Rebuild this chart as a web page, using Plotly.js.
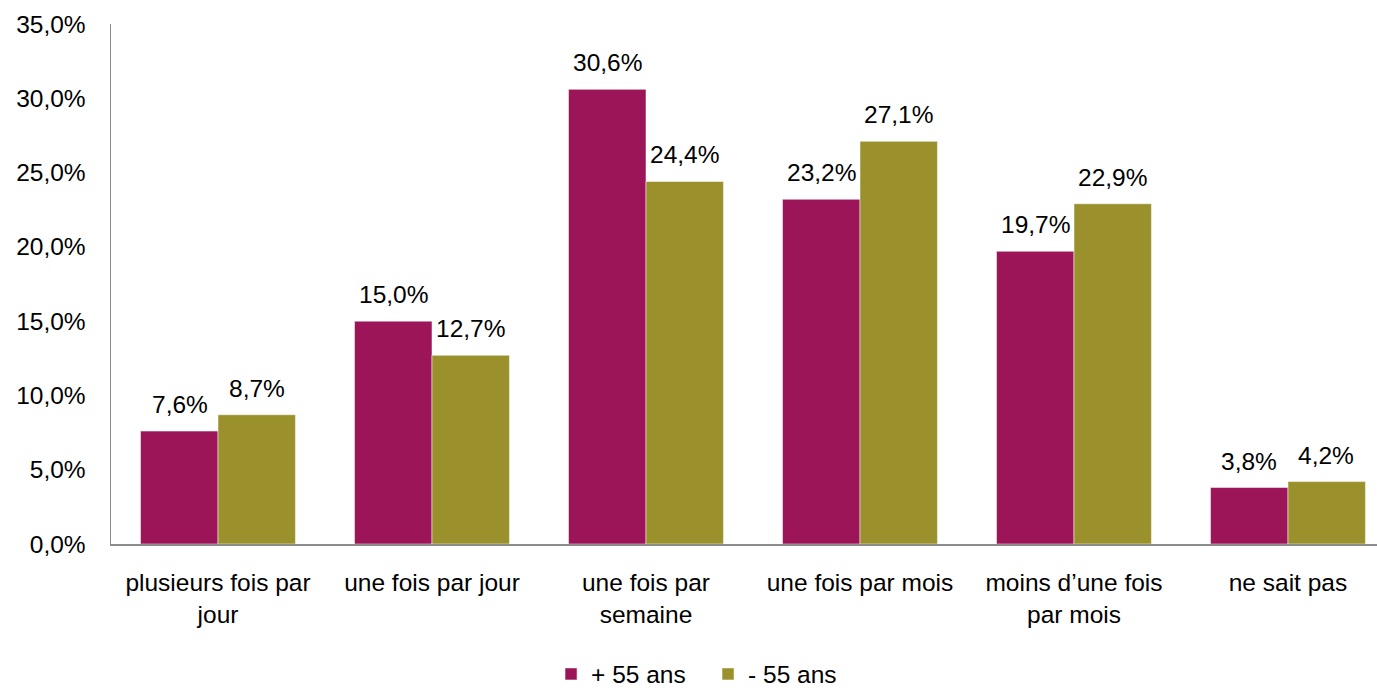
<!DOCTYPE html>
<html>
<head>
<meta charset="utf-8">
<script src="https://cdn.plot.ly/plotly-3.0.1.min.js"></script>
<style>html,body{margin:0;padding:0;background:#fff;}#chart{width:1377px;height:692px;}</style>
</head>
<body>
<div id="chart"></div>
<script>
const categories = ["plusieurs fois par<br>jour", "une fois par jour", "une fois par<br>semaine", "une fois par mois", "moins d\u2019une fois<br>par mois", "ne sait pas"];
const seriesNames = ["+ 55 ans", "- 55 ans"];
const plus55 = [7.6, 15.0, 30.6, 23.2, 19.7, 3.8];
const moins55 = [8.7, 12.7, 24.4, 27.1, 22.9, 4.2];
const colors = ["#9B1558", "#9A912C"];

const FS = 24.5;
const fmt = v => v.toFixed(1).replace('.', ',') + '%';
const xs = categories.map((c, i) => i);

const traces = [plus55, moins55].map((vals, k) => ({
  type: 'bar',
  name: seriesNames[k],
  x: xs,
  y: vals,
  marker: {color: colors[k], line: {color: '#ffffff', width: 0.5}},
  hoverinfo: 'skip'
}));

const annotations = [];
[plus55, moins55].forEach((vals, k) => {
  vals.forEach((v, i) => {
    annotations.push({
      x: i, y: v, xref: 'x', yref: 'y',
      xshift: k === 0 ? -38.5 : 38.5,
      yshift: 11,
      yanchor: 'bottom', xanchor: 'center',
      text: fmt(v), showarrow: false,
      font: {family: 'Liberation Sans, Arial, sans-serif', size: FS, color: '#000'}
    });
  });
});

const layout = {
  width: 1377, height: 692,
  margin: {l: 111, r: 0, t: 24, b: 148, autoexpand: false},
  paper_bgcolor: '#fff', plot_bgcolor: '#fff',
  font: {family: 'Liberation Sans, Arial, sans-serif', size: FS, color: '#000'},
  separators: ', ',
  barmode: 'group', bargap: 0.276, bargroupgap: 0,
  showlegend: true,
  legend: {orientation: 'h', x: 0.4716, xanchor: 'center', y: -0.25, yanchor: 'middle',
           font: {size: FS}, itemwidth: 30, entrywidth: 112, tracegroupgap: 0},
  xaxis: {
    tickmode: 'array', tickvals: xs, ticktext: categories,
    range: [-0.5, 5.416], automargin: false,
    showline: true, linecolor: '#8c8c8c', linewidth: 1.5,
    showgrid: false, zeroline: false, ticks: '', ticklabelstandoff: 16,
    fixedrange: true
  },
  yaxis: {
    range: [0, 35], dtick: 5, tick0: 0, automargin: false,
    tickformat: '.1f', ticksuffix: '%',
    showline: true, linecolor: '#8c8c8c', linewidth: 1.5,
    showgrid: false, zeroline: false, ticks: '', ticklabelstandoff: 19,
    fixedrange: true
  },
  annotations: annotations
};

Plotly.newPlot('chart', traces, layout, {displayModeBar: false, staticPlot: true});
</script>
</body>
</html>
